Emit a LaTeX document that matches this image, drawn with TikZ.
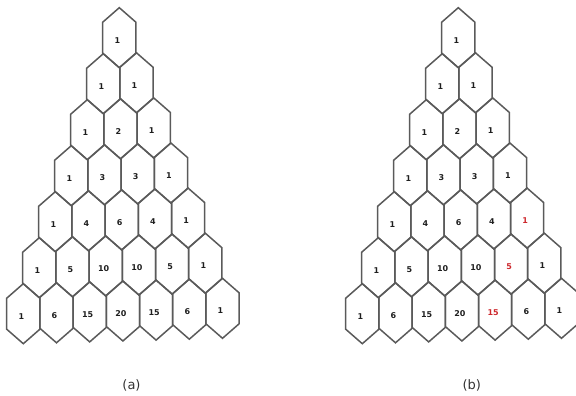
\documentclass[tikz,border=0pt]{standalone}
\usepackage{fontspec}
\newfontfamily\cellfont{DejaVu Sans}
\definecolor{hexgray}{RGB}{90,90,90}
\definecolor{numdark}{RGB}{30,30,30}
\definecolor{numred}{RGB}{205,40,45}
\tikzset{
  hexline/.style={draw=hexgray, line width=1.5pt, line join=miter},
  numtext/.style={font=\cellfont\bfseries\fontsize{8}{9}\selectfont, inner sep=0pt},
  captext/.style={font=\cellfont\fontsize{13}{15}\selectfont, text=black!80, inner sep=0pt}
}
\begin{document}
\begin{tikzpicture}[x=1pt, y=-1pt]
  \useasboundingbox (0,0) rectangle (576,396);
  % two Pascal triangles of elongated hexagons; the second one highlights a diagonal
  \foreach \tri/\dx/\hl in {a/0/0, b/339/1} {
    \foreach \r in {0,...,6} {
      \foreach \k in {0,...,\r} {
        \pgfmathsetmacro\cx{119.3 + \dx - 16*\r + 33.2*\k}
        \pgfmathsetmacro\cy{37.7 + 46*\r - 0.9*\k}
        \pgfmathtruncatemacro\val{round(factorial(\r)/(factorial(\k)*factorial(\r-\k)))}
        \pgfmathtruncatemacro\isred{(\hl==1)&&(\k==4)&&(\r>3)}
        \ifnum\isred=1 \def\numcol{numred}\else\def\numcol{numdark}\fi
        \draw[hexline] (\cx,\cy) ++(0,-30) -- ++(16.6,14.5) -- ++(0,31)
          -- ++(-16.6,14.5) -- ++(-16.6,-14.5) -- ++(0,-31) -- cycle;
        \node[numtext, text=\numcol] (\tri-\r-\k) at (\cx-2,\cy+2.5) {\val};
      }
    }
  }
  \node[captext] (capa) at (131.5,385.5) {(a)};
  \node[captext] (capb) at (471.7,385.5) {(b)};
\end{tikzpicture}
\end{document}
